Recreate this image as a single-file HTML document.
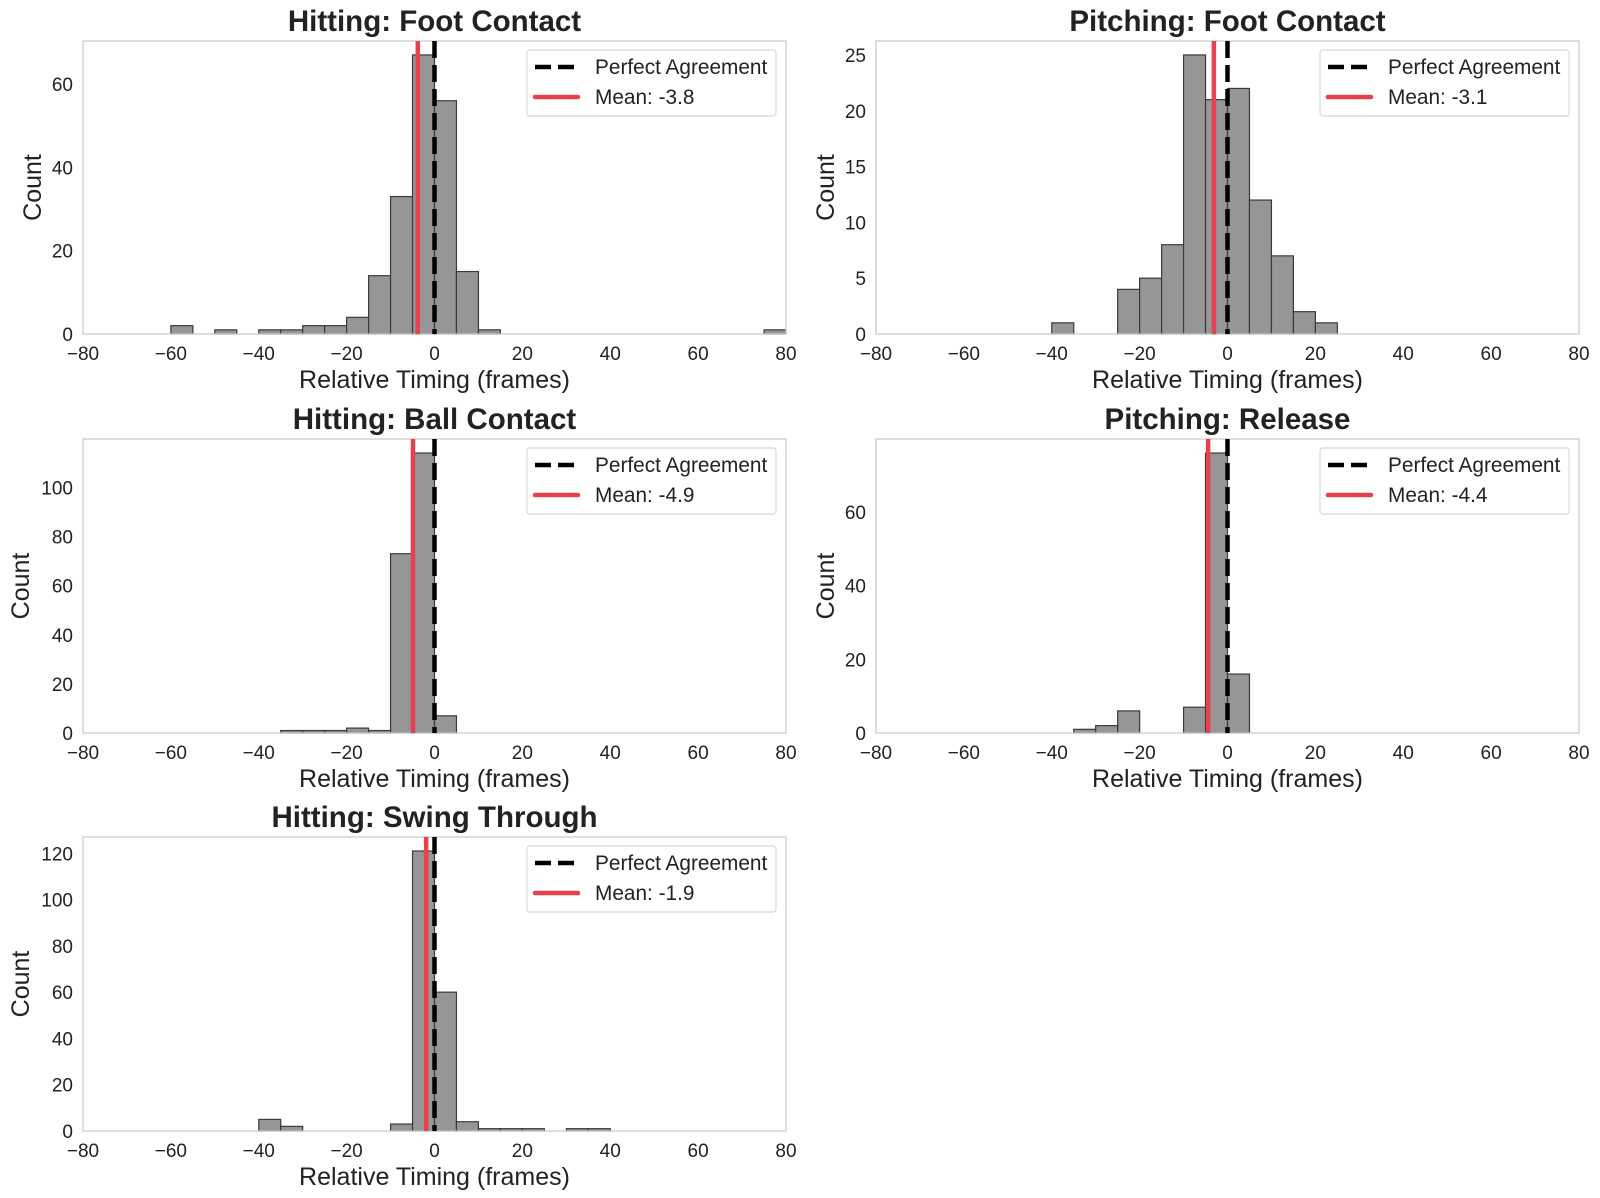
<!DOCTYPE html>
<html><head><meta charset="utf-8"><style>
html,body{margin:0;padding:0;background:#fff;}
svg{display:block;font-family:"Liberation Sans",Arial,sans-serif;}
</style></head><body>
<svg id="fig" width="1600" height="1198" viewBox="0 0 1600 1198" xmlns="http://www.w3.org/2000/svg"></svg>
<script>
// Bin starts (bin width 5 frames) and counts per panel
const p1Bins = [-60,-50,-40,-35,-30,-25,-20,-15,-10,-5,0,5,10,75];
const p1Counts = [2,1,1,1,2,2,4,14,33,67,56,15,1,1];
const p2Bins = [-40,-25,-20,-15,-10,-5,0,5,10,15,20];
const p2Counts = [1,4,5,8,25,21,22,12,7,2,1];
const p3Bins = [-35,-30,-25,-20,-15,-10,-5,0];
const p3Counts = [1,1,1,2,1,73,114,7];
const p4Bins = [-35,-30,-25,-10,-5,0];
const p4Counts = [1,2,6,7,76,16];
const p5Bins = [-40,-35,-10,-5,0,5,10,15,20,30,35];
const p5Counts = [5,2,3,121,60,4,1,1,1,1,1];
const titles = ["Hitting: Foot Contact","Pitching: Foot Contact","Hitting: Ball Contact","Pitching: Release","Hitting: Swing Through"];
const means = [-3.8,-3.1,-4.9,-4.4,-1.9];
const yTicks1 = [0,20,40,60];
const yTicks2 = [0,5,10,15,20,25];
const yTicks3 = [0,20,40,60,80,100];
const yTicks4 = [0,20,40,60];
const yTicks5 = [0,20,40,60,80,100,120];
const xTicks = [-80,-60,-40,-20,0,20,40,60,80];
const binWidth = 5;

const NS="http://www.w3.org/2000/svg";
const svg=document.getElementById('fig');
function mk(tag,attrs,parent){const e=document.createElementNS(NS,tag);for(const k in attrs)e.setAttribute(k,attrs[k]);(parent||svg).appendChild(e);return e;}

const panels=[
 {bins:p1Bins,counts:p1Counts,yt:yTicks1,x0:83,x1:786,y0:41,y1:334,ylx:33},
 {bins:p2Bins,counts:p2Counts,yt:yTicks2,x0:876,x1:1579,y0:41,y1:334,ylx:826},
 {bins:p3Bins,counts:p3Counts,yt:yTicks3,x0:83,x1:786,y0:439,y1:733,ylx:21},
 {bins:p4Bins,counts:p4Counts,yt:yTicks4,x0:876,x1:1579,y0:439,y1:733,ylx:826},
 {bins:p5Bins,counts:p5Counts,yt:yTicks5,x0:83,x1:786,y0:837,y1:1131,ylx:21}
];
panels.forEach((p,i)=>{
 const g=mk('g',{});
 
 
 const ymax=Math.max(...p.counts)*1.05;
 const sx=v=>p.x0+(v+80)/160*(p.x1-p.x0);
 const sy=v=>p.y1-v/ymax*(p.y1-p.y0);
 p.bins.forEach((b,j)=>{
  const r=mk('rect',{x:sx(b),y:sy(p.counts[j]),width:sx(b+binWidth)-sx(b),height:sy(0)-sy(p.counts[j]),fill:'#969696',stroke:'#3a3a3a','stroke-width':1.2},g);
  
  
 });
 const fr=mk('rect',{x:p.x0,y:p.y0,width:p.x1-p.x0,height:p.y1-p.y0,fill:'none',stroke:'#cccccc','stroke-width':1.3},g);
 
 
 const pl=mk('line',{x1:sx(0),x2:sx(0),y1:p.y0,y2:p.y1,stroke:'#000','stroke-width':4.5,'stroke-dasharray':'17 7'},g);
 
 
 const ml=mk('line',{x1:sx(means[i]),x2:sx(means[i]),y1:p.y0,y2:p.y1,stroke:'#e8414e','stroke-width':4.5},g);
 
 
 xTicks.forEach(t=>{
  const tx=mk('text',{x:sx(t),y:p.y1+26,'text-anchor':'middle','font-size':19,fill:'#222'},g);
  tx.textContent=(t<0?'\u2212':'')+Math.abs(t);
  
  
 });
 p.yt.forEach(t=>{
  const ty=mk('text',{x:p.x0-10,y:sy(t)+7,'text-anchor':'end','font-size':19,fill:'#222'},g);
  ty.textContent=t;
  
  
 });
 const xl=mk('text',{x:(p.x0+p.x1)/2,y:p.y1+54,'text-anchor':'middle','font-size':25,fill:'#222'},g);
 xl.textContent='Relative Timing (frames)';
 
 
 const yl=mk('text',{x:p.ylx,y:(p.y0+p.y1)/2,'text-anchor':'middle','font-size':25,fill:'#222',transform:`rotate(-90 ${p.ylx} ${(p.y0+p.y1)/2})`,'dominant-baseline':'central'},g);
 yl.textContent='Count';
 
 
 const tt=mk('text',{x:(p.x0+p.x1)/2,y:p.y0-10,'text-anchor':'middle','font-size':29.5,'font-weight':'bold',fill:'#222'},g);
 tt.textContent=titles[i];
 
 
 const lg=mk('g',{},g);
 
 
 const lx=p.x1-259, ly=p.y0+9;
 mk('rect',{x:lx,y:ly,width:249,height:66,rx:3,fill:'#fff',stroke:'#d8d8d8','stroke-width':1.2},lg);
 mk('line',{x1:lx+8,x2:lx+51,y1:ly+17,y2:ly+17,stroke:'#000','stroke-width':4.5,'stroke-dasharray':'16 7'},lg);
 mk('line',{x1:lx+8,x2:lx+51,y1:ly+47,y2:ly+47,stroke:'#e8414e','stroke-width':4.5,'stroke-linecap':'round'},lg);
 const l1=mk('text',{x:lx+68,y:ly+24,'font-size':20.8,fill:'#222'},lg);
 l1.textContent='Perfect Agreement';
 
 
 const l2=mk('text',{x:lx+68,y:ly+54,'font-size':20.8,fill:'#222'},lg);
 l2.textContent='Mean: '+means[i].toFixed(1);
 
 
});
</script>
</body></html>
